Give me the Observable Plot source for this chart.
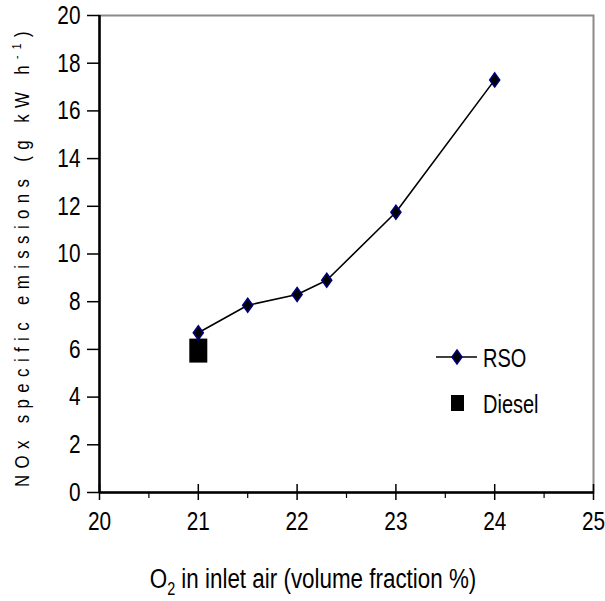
<!DOCTYPE html>
<html>
<head>
<meta charset="utf-8">
<script src="https://cdn.jsdelivr.net/npm/d3@7"></script>
<script src="https://cdn.jsdelivr.net/npm/@observablehq/plot@0.6"></script>
<style>
  html, body { margin: 0; padding: 0; background: #fff; }
  #chart svg { display: block; }
</style>
</head>
<body>
<div id="chart"></div>
<script>
// ---- data ----
const rsoO2 = [21, 21.5, 22, 22.3, 23, 24];
const rsoNOx = [6.7, 7.85, 8.3, 8.9, 11.75, 17.3];
const dieselO2 = [21];
const dieselNOx = [5.95];
const xTicks = [20, 21, 22, 23, 24, 25];
const xMinorTicks = [20.5, 21.5, 22.5, 23.5, 24.5];
const yTicks = [0, 2, 4, 6, 8, 10, 12, 14, 16, 18, 20];
const seriesNames = ["RSO", "Diesel"];

const rso = rsoO2.map((x, i) => ({x, y: rsoNOx[i]}));
const diesel = dieselO2.map((x, i) => ({x, y: dieselNOx[i]}));

const FONT = "'Liberation Sans', Arial, sans-serif";
const SX = 0.8; // horizontal condensing to mimic Arial Narrow

// custom marker shapes
const diamond = {draw(ctx, size) {
  const r = Math.sqrt(size / Math.PI);
  const w = r * 0.72, h = r;
  ctx.moveTo(0, -h); ctx.lineTo(w, 0); ctx.lineTo(0, h); ctx.lineTo(-w, 0); ctx.closePath();
}};
const tallRect = {draw(ctx, size) {
  const r = Math.sqrt(size / Math.PI);
  const w = r * 0.75, h = r;
  ctx.rect(-w, -h, 2 * w, 2 * h);
}};

const chart = Plot.plot({
  width: 605,
  height: 601,
  marginLeft: 99,
  marginRight: 12,
  marginTop: 15,
  marginBottom: 109,
  style: {fontFamily: FONT, fontSize: "26px", color: "#000", background: "#fff"},
  x: {domain: [20, 25], label: null},
  y: {domain: [0, 20], label: null},
  marks: [
    Plot.frame({stroke: "#8a8a8a", strokeWidth: 2}),
    Plot.axisY({ticks: yTicks, tickSize: 12, tickPadding: 7, tickFormat: d => String(d), fontSize: 26, label: null, strokeWidth: 1.5}),
    Plot.axisX({ticks: xTicks, tickSize: 8, tickPadding: 11, tickFormat: d => String(d), fontSize: 26, label: null, strokeWidth: 1.5}),
    Plot.axisX({ticks: xTicks, tickSize: -8, tickFormat: () => "", label: null, strokeWidth: 1.5}),
    Plot.axisX({ticks: xMinorTicks, tickSize: 6, tickFormat: () => "", label: null, strokeWidth: 1.2}),
    Plot.ruleX([20], {stroke: "#000", strokeWidth: 2.5}),
    Plot.ruleY([0], {stroke: "#000", strokeWidth: 2.5}),
    Plot.line(rso, {x: "x", y: "y", stroke: "#000", strokeWidth: 1.6}),
    Plot.dot(diesel, {x: "x", y: "y", symbol: tallRect, r: 12, fill: "#000", stroke: "none"}),
    Plot.dot(rso, {x: "x", y: "y", symbol: diamond, r: 7, fill: "#000", stroke: "#000080", strokeWidth: 1.5})
  ]
});

document.getElementById("chart").appendChild(chart);

const svg = d3.select(chart);

// condense the axis tick labels
svg.selectAll('g[aria-label="y-axis tick label"] text, g[aria-label="x-axis tick label"] text').each(function() {
  const t = this.getAttribute("transform") || "";
  this.setAttribute("transform", t + ` scale(${SX},1)`);
});

// y-axis title
const yt = svg.append("text")
  .attr("transform", `translate(29,256) rotate(-90) scale(${SX},1)`)
  .attr("text-anchor", "middle")
  .style("font-family", FONT)
  .style("font-size", "21px")
  .style("letter-spacing", "8px")
  .attr("fill", "#000");
yt.append("tspan").text("NOx specific emissions (g kW h");
yt.append("tspan").attr("dy", -8).style("font-size", "13px").text("-1");
yt.append("tspan").attr("dy", 8).text(")");

// x-axis title
const xt = svg.append("text")
  .attr("transform", `translate(313,588) scale(${SX},1)`)
  .attr("text-anchor", "middle")
  .style("font-family", FONT)
  .style("font-size", "28px")
  .attr("fill", "#000");
xt.append("tspan").text("O");
xt.append("tspan").attr("dy", 7).style("font-size", "18px").text("2");
xt.append("tspan").attr("dy", -7).text(" in inlet air (volume fraction %)");

// legend
const lg = svg.append("g").style("font-family", FONT).style("font-size", "25px").attr("text-anchor", "start");
lg.append("line").attr("x1", 436).attr("x2", 477).attr("y1", 357).attr("y2", 357).attr("stroke", "#000").attr("stroke-width", 1.6);
lg.append("path").attr("d", d3.symbol(diamond, Math.PI * 49)()).attr("transform", "translate(457,357)")
  .attr("fill", "#000").attr("stroke", "#000080").attr("stroke-width", 1.5);
lg.append("text").attr("text-anchor", "start").attr("transform", `translate(483,367) scale(${SX},1)`).text(seriesNames[0]);
lg.append("rect").attr("x", 451).attr("y", 395).attr("width", 13).attr("height", 16).attr("fill", "#000");
lg.append("text").attr("text-anchor", "start").attr("transform", `translate(483,413) scale(${SX},1)`).text(seriesNames[1]);
</script>
</body>
</html>
